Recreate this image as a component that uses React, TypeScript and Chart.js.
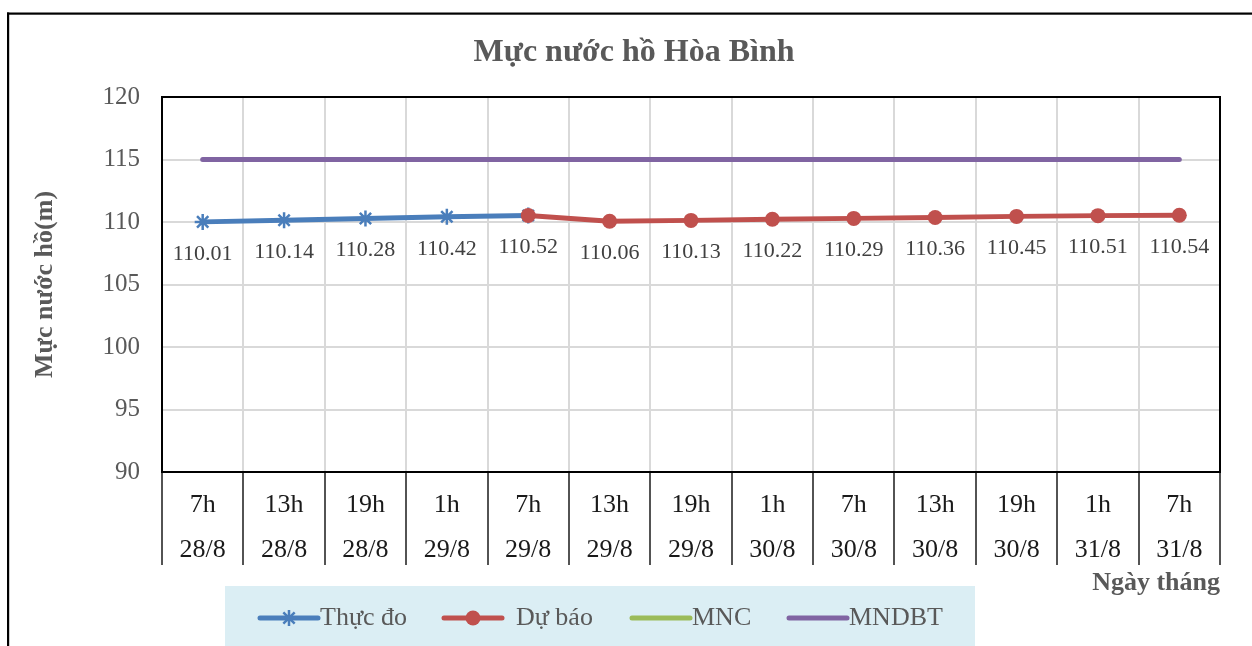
import React, { useEffect, useRef } from "react";
import { Chart, registerables } from "chart.js";

Chart.register(...registerables);

const hourLabels = ["7h", "13h", "19h", "1h", "7h", "13h", "19h", "1h", "7h", "13h", "19h", "1h", "7h"];
const dateLabels = ["28/8", "28/8", "28/8", "29/8", "29/8", "29/8", "29/8", "30/8", "30/8", "30/8", "30/8", "31/8", "31/8"];
const measured: (number | null)[] = [110.01, 110.14, 110.28, 110.42, 110.52, null, null, null, null, null, null, null, null];
const forecast: (number | null)[] = [null, null, null, null, 110.52, 110.06, 110.13, 110.22, 110.29, 110.36, 110.45, 110.51, 110.54];
const mnc = [80, 80, 80, 80, 80, 80, 80, 80, 80, 80, 80, 80, 80];
const mndbt = [115, 115, 115, 115, 115, 115, 115, 115, 115, 115, 115, 115, 115];
const seriesNames = ["Thực đo", "Dự báo", "MNC", "MNDBT"];
const chartTitle = "Mực nước hồ Hòa Bình";
const yTitle = "Mực nước hồ(m)";
const xTitle = "Ngày tháng";
const yMin = 90;
const yMax = 120;
const yStep = 5;

const SERIF = "'Liberation Serif', 'Times New Roman', serif";
const BLUE = "#4A7EBB";
const RED = "#C0504D";
const GREEN = "#9BBB59";
const PURPLE = "#8064A2";
const seriesColors = [BLUE, RED, GREEN, PURPLE];
const seriesMarkers = ["star", "circle", "none", "none"];

const framePlugin = {
  id: "frame",
  beforeDraw(chart: any) {
    const ctx = chart.ctx;
    ctx.save();
    ctx.fillStyle = "#ffffff";
    ctx.fillRect(0, 0, chart.width, chart.height);
    ctx.fillStyle = "#000000";
    ctx.fillRect(7, 12.5, chart.width, 2.2);
    ctx.fillRect(7, 12.5, 2.2, chart.height);
    // title
    ctx.font = `bold 32px ${SERIF}`;
    ctx.fillStyle = "#595959";
    ctx.textAlign = "center";
    ctx.textBaseline = "middle";
    ctx.fillText(chartTitle, chart.width / 2 + 8, 53);
    ctx.restore();
  },
};

const plotBorderPlugin = {
  id: "plotBorder",
  beforeDatasetsDraw(chart: any) {
    const { ctx, chartArea } = chart;
    ctx.save();
    ctx.strokeStyle = "#000";
    ctx.lineWidth = 2;
    ctx.strokeRect(chartArea.left, chartArea.top, chartArea.right - chartArea.left, chartArea.bottom - chartArea.top);
    ctx.restore();
  },
};

const valueLabelPlugin = {
  id: "valueLabels",
  afterDatasetsDraw(chart: any) {
    const ctx = chart.ctx;
    const m0 = chart.getDatasetMeta(0);
    const m1 = chart.getDatasetMeta(1);
    ctx.save();
    ctx.font = `22px ${SERIF}`;
    ctx.fillStyle = "#404040";
    ctx.textAlign = "center";
    ctx.textBaseline = "middle";
    for (let i = 0; i < hourLabels.length; i++) {
      const useMeasured = measured[i] != null;
      const v = useMeasured ? measured[i] : forecast[i];
      if (v == null) continue;
      const el = (useMeasured ? m0 : m1).data[i];
      ctx.fillText(v.toFixed(2), el.x, el.y + 32);
    }
    ctx.restore();
  },
};

const legendLayout = {
  box: { x: 225, y: 586, w: 750, h: 70 },
  cy: 618,
  lineStarts: [260, 444, 632, 789],
  lineLen: 58,
  textStarts: [320, 516, 692, 849],
};

const legendPlugin = {
  id: "customLegend",
  afterDraw(chart: any) {
    const ctx = chart.ctx;
    const L = legendLayout;
    ctx.save();
    ctx.fillStyle = "#DBEEF4";
    ctx.fillRect(L.box.x, L.box.y, L.box.w, L.box.h);
    ctx.font = `26px ${SERIF}`;
    ctx.textBaseline = "middle";
    ctx.textAlign = "left";
    for (let i = 0; i < seriesNames.length; i++) {
      const x0 = L.lineStarts[i];
      const x1 = x0 + L.lineLen;
      ctx.strokeStyle = seriesColors[i];
      ctx.lineWidth = 5;
      ctx.lineCap = "round";
      ctx.beginPath();
      ctx.moveTo(x0, L.cy);
      ctx.lineTo(x1, L.cy);
      ctx.stroke();
      const mx = (x0 + x1) / 2;
      if (seriesMarkers[i] === "circle") {
        ctx.fillStyle = seriesColors[i];
        ctx.beginPath();
        ctx.arc(mx, L.cy, 7.5, 0, Math.PI * 2);
        ctx.fill();
      } else if (seriesMarkers[i] === "star") {
        ctx.lineWidth = 2.5;
        ctx.lineCap = "butt";
        ctx.beginPath();
        for (let k = 0; k < 4; k++) {
          const a = (k * Math.PI) / 4;
          ctx.moveTo(mx - 8 * Math.cos(a), L.cy - 8 * Math.sin(a));
          ctx.lineTo(mx + 8 * Math.cos(a), L.cy + 8 * Math.sin(a));
        }
        ctx.stroke();
      }
      ctx.fillStyle = "#595959";
      ctx.fillText(seriesNames[i], L.textStarts[i], L.cy);
    }
    ctx.restore();
  },
};

export default function App() {
  const ref = useRef<HTMLCanvasElement>(null);
  useEffect(() => {
    const chart = new Chart(ref.current as HTMLCanvasElement, {
      type: "line",
      data: {
        labels: hourLabels.map((h, i) => [h, dateLabels[i]]),
        datasets: [
          {
            label: seriesNames[0],
            data: measured,
            borderColor: BLUE,
            backgroundColor: BLUE,
            borderWidth: 5,
            pointStyle: "star",
            pointRadius: 8,
            pointBorderWidth: 2.5,
            pointBorderColor: BLUE,
            order: 1,
          },
          {
            label: seriesNames[1],
            data: forecast,
            borderColor: RED,
            backgroundColor: RED,
            borderWidth: 5,
            pointStyle: "circle",
            pointRadius: 7.5,
            pointBorderWidth: 0,
            order: 0,
          },
          {
            label: seriesNames[2],
            data: mnc,
            borderColor: GREEN,
            backgroundColor: GREEN,
            borderWidth: 5,
            pointRadius: 0,
            order: 2,
          },
          {
            label: seriesNames[3],
            data: mndbt,
            borderColor: PURPLE,
            backgroundColor: PURPLE,
            borderWidth: 5,
            borderCapStyle: "round",
            pointRadius: 0,
            order: 3,
          },
        ],
      },
      options: {
        responsive: false,
        animation: false,
        events: [],
        layout: { padding: { left: 16, right: 32, top: 97, bottom: 46 } },
        plugins: {
          legend: { display: false },
          title: { display: false },
          tooltip: { enabled: false },
        },
        scales: {
          x: {
            type: "category",
            offset: true,
            grid: {
              offset: true,
              color: "#D9D9D9",
              lineWidth: 2,
              drawTicks: true,
              tickLength: 93,
              tickColor: "#1a1a1a",
              tickWidth: 1.5,
            },
            border: { display: true, color: "#000", width: 2 },
            ticks: {
              autoSkip: false,
              maxRotation: 0,
              minRotation: 0,
              padding: -82.5,
              color: "#1a1a1a",
              font: { family: SERIF, size: 26, lineHeight: 1.73 },
            },
            title: {
              display: true,
              text: xTitle,
              align: "end",
              color: "#595959",
              font: { family: SERIF, size: 26, weight: "bold" },
              padding: { top: 0, bottom: 1.4 },
            },
            afterFit: (s: any) => {
              s.height = 128;
            },
          },
          y: {
            min: yMin,
            max: yMax,
            ticks: {
              stepSize: yStep,
              padding: 22,
              color: "#595959",
              font: { family: SERIF, size: 25 },
            },
            grid: { color: "#D9D9D9", lineWidth: 2, drawTicks: false },
            border: { display: true, color: "#000", width: 2 },
            title: {
              display: true,
              text: yTitle,
              color: "#595959",
              font: { family: SERIF, size: 26, weight: "bold" },
              padding: { top: 13.4, bottom: 0 },
            },
            afterFit: (s: any) => {
              s.width = 146;
            },
          },
        },
      } as any,
      plugins: [framePlugin, plotBorderPlugin, valueLabelPlugin, legendPlugin],
    });
    return () => chart.destroy();
  }, []);
  return (
    <div style={{ position: "fixed", left: 0, top: 0, width: 1252, height: 646, background: "#fff" }}>
      <canvas ref={ref} width={1252} height={646} style={{ display: "block", width: 1252, height: 646 }} />
    </div>
  );
}
